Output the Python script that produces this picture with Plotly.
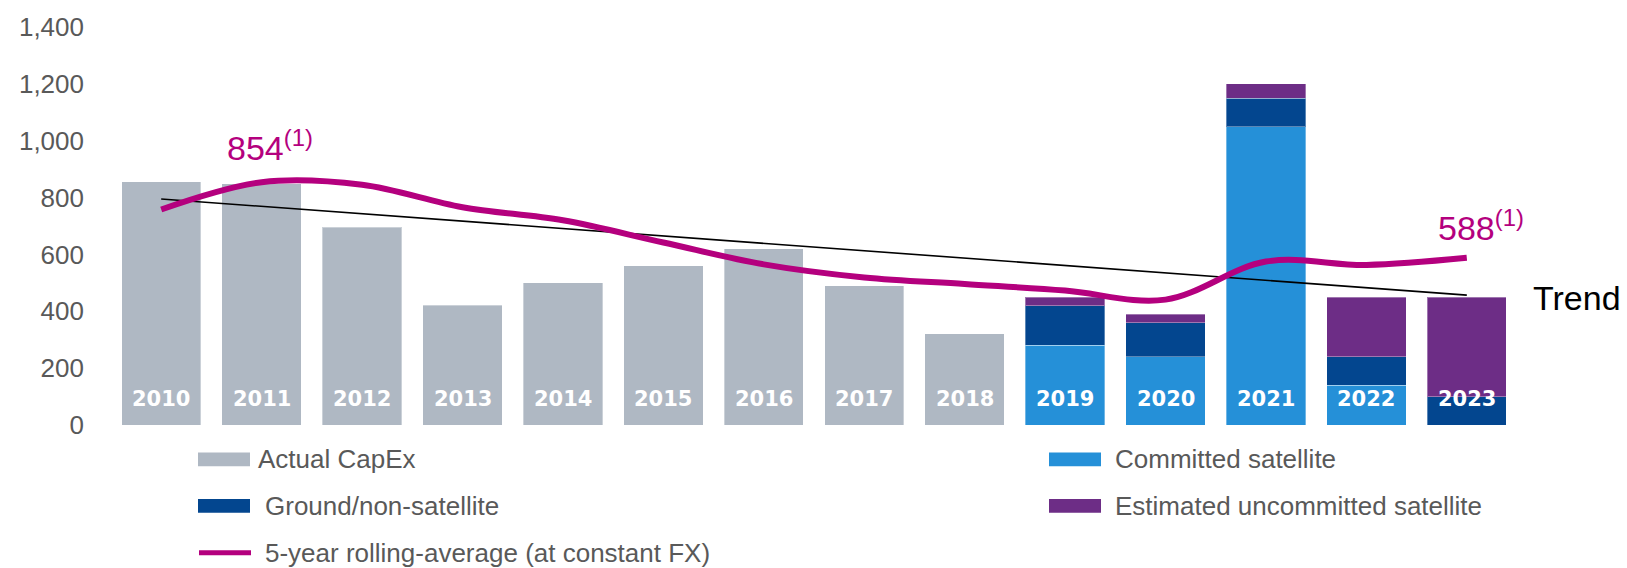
import plotly.graph_objects as go

# ---- data -------------------------------------------------------------
years = ["2010", "2011", "2012", "2013", "2014", "2015", "2016",
         "2017", "2018", "2019", "2020", "2021", "2022", "2023"]
actual_capex = [855, 849, 696, 422, 500, 561, 620, 489, 321,
                None, None, None, None, None]
committed_satellite = [None, None, None, None, None, None, None, None, None,
                       280, 240, 1050, 140, 0]
ground_non_satellite = [None, None, None, None, None, None, None, None, None,
                        140, 120, 100, 100, 100]
uncommitted_satellite = [None, None, None, None, None, None, None, None, None,
                         30, 30, 50, 210, 350]
rolling_average = [758, 854, 845, 766, 720, 642, 565, 519, 496,
                   473, 441, 575, 563, 588]
trend_years = ["2010", "2023"]
trend_values = [795, 457]
y_ticks = [0, 200, 400, 600, 800, 1000, 1200, 1400]

# ---- styling ----------------------------------------------------------
GREY = "#AFB8C3"
LIGHT_BLUE = "#2590D8"
DARK_BLUE = "#03468F"
PURPLE = "#6D2D86"
MAGENTA = "#B4007E"
TEXT_GREY = "#595959"
FONT = "Liberation Sans, Arial, sans-serif"

W, H = 1627, 568
ML, MR, MT, MB = 111, 110, 23, 143
PW, PH = W - ML - MR, H - MT - MB


def px_x(p):
    return (p - ML) / PW


def px_y(p):
    return (H - MB - p) / PH


edge = dict(width=1, color="rgba(255,255,255,0.35)")

fig = go.Figure()
fig.add_trace(go.Bar(x=years, y=actual_capex, name="Actual CapEx",
                     marker=dict(color=GREY, line=edge)))
fig.add_trace(go.Bar(x=years, y=committed_satellite, name="Committed satellite",
                     marker=dict(color=LIGHT_BLUE, line=edge)))
fig.add_trace(go.Bar(x=years, y=ground_non_satellite, name="Ground/non-satellite",
                     marker=dict(color=DARK_BLUE, line=edge)))
fig.add_trace(go.Bar(x=years, y=uncommitted_satellite,
                     name="Estimated uncommitted satellite",
                     marker=dict(color=PURPLE, line=edge)))
fig.add_trace(go.Scatter(x=trend_years, y=trend_values, mode="lines",
                         line=dict(color="black", width=1.6), name="Trend"))
fig.add_trace(go.Scatter(x=years, y=rolling_average, mode="lines",
                         line=dict(color=MAGENTA, width=6, shape="spline",
                                   smoothing=1.0),
                         name="5-year rolling-average (at constant FX)"))

annotations = []
# year labels inside the bars (category index positions)
for i, yr in enumerate(years):
    annotations.append(dict(xref="x", yref="y", x=i, y=90, text=yr,
                            showarrow=False,
                            font=dict(family="DejaVu Sans", size=21,
                                      color="white", weight="bold")))

# rolling-average call-outs
last = len(years) - 1
annotations.append(dict(xref="x", yref="y", x=1, y=rolling_average[1] + 130,
                        text=f"{rolling_average[1]}<sup>(1)</sup>",
                        showarrow=False, xshift=8,
                        font=dict(family=FONT, size=34, color=MAGENTA)))
annotations.append(dict(xref="x", yref="y", x=last,
                        y=rolling_average[last] + 115,
                        text=f"{rolling_average[last]}<sup>(1)</sup>",
                        showarrow=False, xshift=14,
                        font=dict(family=FONT, size=34, color=MAGENTA)))
annotations.append(dict(xref="paper", yref="y", x=px_x(1531), y=446,
                        text="Trend", xanchor="left", showarrow=False,
                        font=dict(family=FONT, size=34, color="black")))

# legend
shapes = []
legend_items = [
    ("Actual CapEx", GREY, 198, 459.7, 256),
    ("Committed satellite", LIGHT_BLUE, 1049, 459.7, 1113),
    ("Ground/non-satellite", DARK_BLUE, 198, 506.7, 263),
    ("Estimated uncommitted satellite", PURPLE, 1049, 506.7, 1113),
]
for label, color, sx, cy, tx in legend_items:
    shapes.append(dict(type="rect", xref="paper", yref="paper",
                       x0=px_x(sx), x1=px_x(sx + 52),
                       y0=px_y(cy - 7), y1=px_y(cy + 7),
                       fillcolor=color, line=dict(width=0)))
    annotations.append(dict(xref="paper", yref="paper", x=px_x(tx),
                            y=px_y(cy), text=label, xanchor="left",
                            yanchor="middle", showarrow=False,
                            font=dict(family=FONT, size=26, color=TEXT_GREY)))
shapes.append(dict(type="line", xref="paper", yref="paper",
                   x0=px_x(199), x1=px_x(251), y0=px_y(554), y1=px_y(554),
                   line=dict(color=MAGENTA, width=5)))
annotations.append(dict(xref="paper", yref="paper", x=px_x(263), y=px_y(554),
                        text="5-year rolling-average (at constant FX)",
                        xanchor="left", yanchor="middle", showarrow=False,
                        font=dict(family=FONT, size=26, color=TEXT_GREY)))

fig.update_layout(
    width=W, height=H, autosize=False,
    margin=dict(l=ML, r=MR, t=MT, b=MB, pad=0),
    barmode="stack", bargap=0.21,
    plot_bgcolor="white", paper_bgcolor="white",
    showlegend=False,
    font=dict(family=FONT, color=TEXT_GREY),
    annotations=annotations, shapes=shapes,
)
fig.update_xaxes(type="category", showticklabels=False, showgrid=False,
                 zeroline=False, showline=False, ticks="",
                 range=[-0.5, len(years) - 0.5])
fig.update_yaxes(range=[0, 1400], tickvals=y_ticks, tickformat=",",
                 showgrid=False, zeroline=False, showline=False, ticks="",
                 ticklabelstandoff=26,
                 tickfont=dict(family=FONT, size=26, color=TEXT_GREY))

fig.write_html("out.html")
